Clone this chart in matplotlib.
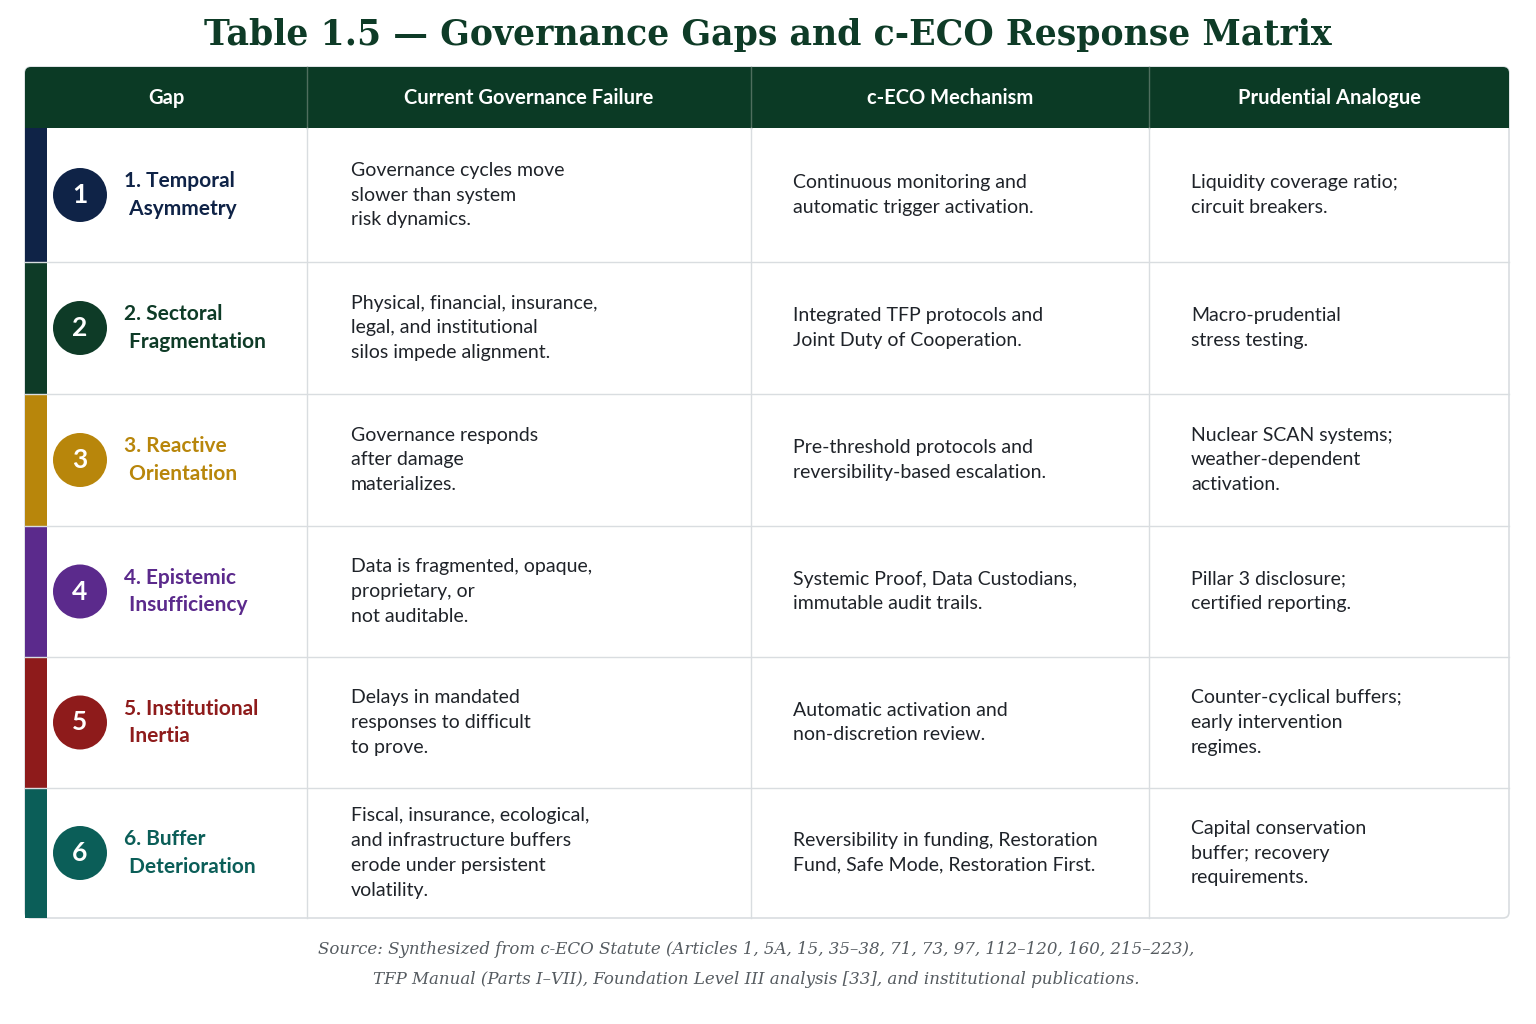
import matplotlib.pyplot as plt
from matplotlib.patches import Rectangle, Circle, FancyBboxPatch

TITLE = "Table 1.5 \u2014 Governance Gaps and c-ECO Response Matrix"
HEADERS = ["Gap", "Current Governance Failure", "c-ECO Mechanism", "Prudential Analogue"]
GAP_NUMBERS = ["1", "2", "3", "4", "5", "6"]
GAP_LABELS = [
    "1. Temporal\n Asymmetry",
    "2. Sectoral\n Fragmentation",
    "3. Reactive\n Orientation",
    "4. Epistemic\n Insufficiency",
    "5. Institutional\n Inertia",
    "6. Buffer\n Deterioration",
]
GAP_COLORS = ["#0f2347", "#0e3b27", "#b8860b", "#5b2a8c", "#8e1b1b", "#0b5e58"]
FAILURES = [
    "Governance cycles move\nslower than system\nrisk dynamics.",
    "Physical, financial, insurance,\nlegal, and institutional\nsilos impede alignment.",
    "Governance responds\nafter damage\nmaterializes.",
    "Data is fragmented, opaque,\nproprietary, or\nnot auditable.",
    "Delays in mandated\nresponses to difficult\nto prove.",
    "Fiscal, insurance, ecological,\nand infrastructure buffers\nerode under persistent\nvolatility.",
]
MECHANISMS = [
    "Continuous monitoring and\nautomatic trigger activation.",
    "Integrated TFP protocols and\nJoint Duty of Cooperation.",
    "Pre-threshold protocols and\nreversibility-based escalation.",
    "Systemic Proof, Data Custodians,\nimmutable audit trails.",
    "Automatic activation and\nnon-discretion review.",
    "Reversibility in funding, Restoration\nFund, Safe Mode, Restoration First.",
]
ANALOGUES = [
    "Liquidity coverage ratio;\ncircuit breakers.",
    "Macro-prudential\nstress testing.",
    "Nuclear SCAN systems;\nweather-dependent\nactivation.",
    "Pillar 3 disclosure;\ncertified reporting.",
    "Counter-cyclical buffers;\nearly intervention\nregimes.",
    "Capital conservation\nbuffer; recovery\nrequirements.",
]
SOURCE = ("Source: Synthesized from c-ECO Statute (Articles 1, 5A, 15, 35\u201338, 71, 73, 97, 112\u2013120, 160, 215\u2013223),\n"
          "TFP Manual (Parts I\u2013VII), Foundation Level III analysis [33], and institutional publications.")

HEADER_BG = "#0b3a25"
TEXT = "#1f2329"
GRID = "#d9dde0"
BODY_FONT = ["Lato", "DejaVu Sans"]

fig = plt.figure(figsize=(15.36, 10.24), dpi=100)
ax = fig.add_axes([0, 0, 1, 1])
ax.set_xlim(0, 1536)
ax.set_ylim(1024, 0)
ax.axis("off")

left, right = 25, 1509
col_x = [left, 307, 751, 1149, right]
head_top, head_bot = 67, 128
row_y = [128, 262, 394, 526, 657, 788, 918]

ax.text(768, 35, TITLE, ha="center", va="center", fontsize=25, fontweight="bold",
        family="DejaVu Serif", color="#0e3b27")

# outer frame and header
ax.add_patch(FancyBboxPatch((left, head_top), right - left, row_y[-1] - head_top,
                            boxstyle="round,pad=0,rounding_size=6", fc="white", ec=GRID, lw=1.2))
ax.add_patch(FancyBboxPatch((left, head_top), right - left, head_bot - head_top,
                            boxstyle="round,pad=0,rounding_size=6", fc=HEADER_BG, ec="none"))
ax.add_patch(Rectangle((left, head_top + 20), right - left, head_bot - head_top - 20, fc=HEADER_BG, ec="none"))
for i, h in enumerate(HEADERS):
    ax.text((col_x[i] + col_x[i + 1]) / 2, (head_top + head_bot) / 2, h, ha="center", va="center",
            fontsize=14.5, fontweight="bold", color="white", family=BODY_FONT)
for x in col_x[1:-1]:
    ax.plot([x, x], [head_top, head_bot], color="#4f6e5e", lw=1)
    ax.plot([x, x], [head_bot, row_y[-1]], color=GRID, lw=1)

for r in range(len(GAP_LABELS)):
    y0, y1 = row_y[r], row_y[r + 1]
    yc = (y0 + y1) / 2
    c = GAP_COLORS[r]
    if r < len(GAP_LABELS) - 1:
        ax.plot([left, right], [y1, y1], color=GRID, lw=1)
    ax.add_patch(Rectangle((left, y0), 22, y1 - y0, fc=c, ec="none"))
    ax.add_patch(Circle((80, yc), 27, fc=c, ec="none"))
    ax.text(80, yc, GAP_NUMBERS[r], ha="center", va="center", fontsize=19,
            fontweight="bold", color="white", family=BODY_FONT)
    ax.text(124, yc, GAP_LABELS[r], ha="left", va="center", fontsize=15, fontweight="bold",
            color=c, family=BODY_FONT, linespacing=1.45)
    for x, txt in zip([351, 793, 1191], [FAILURES[r], MECHANISMS[r], ANALOGUES[r]]):
        ax.text(x, yc, txt, ha="left", va="center", fontsize=14, color=TEXT,
                family=BODY_FONT, linespacing=1.55)

ax.text(756, 965, SOURCE, ha="center", va="center", fontsize=12, style="italic",
        family="DejaVu Serif", color="#555b60", linespacing=2.0)

fig.savefig("out.png", dpi=100)
